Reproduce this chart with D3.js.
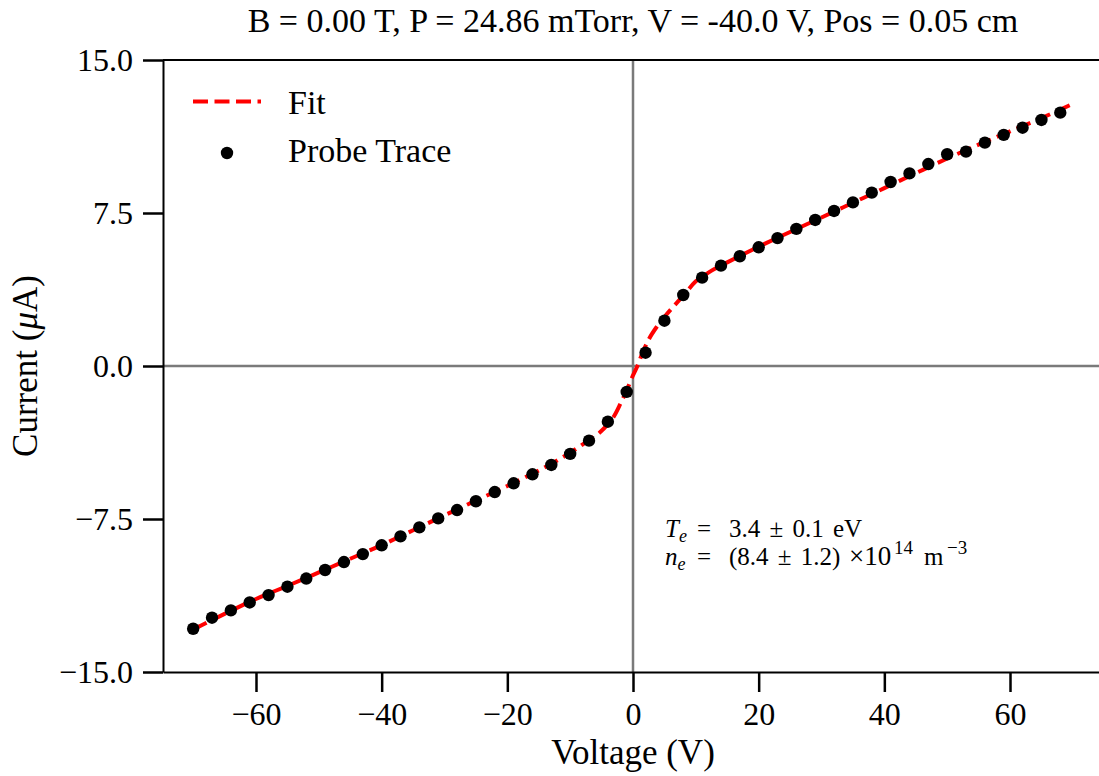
<!DOCTYPE html>
<html>
<head>
<meta charset="utf-8">
<script src="https://cdn.jsdelivr.net/npm/d3@7"></script>
<style>
    body { margin: 0; background: #fff; }
    text { font-family: "Liberation Serif", "Times New Roman", serif; fill: #000; }
    .tick text { font-size: 32px; }
</style>
</head>
<body>
<div id="chart"></div>
<script>

/*
DATA
*/
const titleText = "B = 0.00 T, P = 24.86 mTorr, V = -40.0 V, Pos = 0.05 cm";

// probe trace
const traceV = [-70, -67, -64, -61, -58, -55, -52, -49, -46, -43, -40, -37, -34, -31, -28, -25, -22, -19, -16, -13, -10, -7, -4, -1,
                2, 5, 8, 11, 14, 17, 20, 23, 26, 29, 32, 35, 38, 41, 44, 47, 50, 53, 56, 59, 62, 65, 68];
const traceI = [-12.88, -12.34, -11.98, -11.59, -11.23, -10.82, -10.42, -10.00, -9.61, -9.22, -8.79, -8.35, -7.91, -7.47, -7.06, -6.63, -6.18, -5.75, -5.31, -4.85, -4.31, -3.66, -2.73, -1.27,
                0.65, 2.22, 3.48, 4.33, 4.92, 5.38, 5.82, 6.27, 6.72, 7.16, 7.60, 8.02, 8.50, 9.02, 9.44, 9.90, 10.38, 10.51, 10.95, 11.33, 11.68, 12.06, 12.42];

// fit curve
const fitV = [-70, -65, -60, -55, -50, -45, -40, -35, -30, -25, -20, -15, -12, -9, -7, -5.25, -4, -3, -2, -1, -0.2, 0.7, 1.65, 2.5, 3.8, 5, 6.4, 8, 10, 12, 15, 20, 25, 30, 35, 40, 45, 50, 55, 60, 65, 69.5];
const fitI = [-12.92, -12.15, -11.42, -10.78, -10.12, -9.45, -8.78, -8.05, -7.32, -6.6, -5.88, -5.12, -4.62, -4.05, -3.62, -3.25, -2.85, -2.45, -1.85, -1.2, -0.6, 0.0, 0.75, 1.3, 1.93, 2.4, 2.9, 3.45, 4.15, 4.58, 5.08, 5.85, 6.57, 7.28, 8.0, 8.72, 9.45, 10.17, 10.85, 11.5, 12.15, 12.78];

const xTicks = [-60, -40, -20, 0, 20, 40, 60];
const yTicks = [-15, -7.5, 0, 7.5, 15];

const legendLabels = ["Fit", "Probe Trace"];

/*
SVG CANVAS
*/
const width = 1099;
const height = 776;
const margin = {top: 60, left: 163, bottom: 104};

const svg = d3.select("#chart")
    .append("svg")
    .attr("width", width)
    .attr("height", height);

/*
SCALES
*/
// x range runs past the right edge, the original figure is cropped there
const xScale = d3.scaleLinear()
    .domain([-74.8, 74.8])
    .range([margin.left, 1103]);

const yScale = d3.scaleLinear()
    .domain([-15, 15])
    .range([height - margin.bottom, margin.top]);

/*
ZERO LINES
*/
svg.append("line")
    .attr("x1", xScale.range()[0]).attr("x2", xScale.range()[1])
    .attr("y1", yScale(0)).attr("y2", yScale(0))
    .attr("stroke", "#7a7a7a")
    .attr("stroke-width", 2.5);

svg.append("line")
    .attr("x1", xScale(0)).attr("x2", xScale(0))
    .attr("y1", yScale.range()[0]).attr("y2", yScale.range()[1])
    .attr("stroke", "#7a7a7a")
    .attr("stroke-width", 2.5);

/*
AXES
*/
const xAxis = svg.append("g")
    .attr("class", "axis")
    .attr("transform", `translate(0,${height - margin.bottom})`)
    .call(d3.axisBottom(xScale)
        .tickValues(xTicks)
        .tickSize(20)
        .tickSizeOuter(0)
        .tickPadding(5)
        .tickFormat(d => d3.format("d")(d).replace("-", "\u2212")));

const yAxis = svg.append("g")
    .attr("class", "axis")
    .attr("transform", `translate(${margin.left},0)`)
    .call(d3.axisLeft(yScale)
        .tickValues(yTicks)
        .tickSize(20)
        .tickSizeOuter(0)
        .tickPadding(10)
        .tickFormat(d => d3.format(".1f")(d).replace("-", "\u2212")));

svg.selectAll(".axis .domain").attr("stroke", "#000").attr("stroke-width", 2);
svg.selectAll(".axis .tick line").attr("stroke", "#000").attr("stroke-width", 2.5);
xAxis.selectAll(".tick text").attr("dy", "0.88em");
yAxis.selectAll(".tick text").attr("dy", "0.34em");

// top spine
svg.append("line")
    .attr("x1", xScale.range()[0]).attr("x2", xScale.range()[1])
    .attr("y1", yScale(15)).attr("y2", yScale(15))
    .attr("stroke", "#000")
    .attr("stroke-width", 2);

/*
FIT LINE + POINTS
*/
const fitData = fitV.map((v, i) => ({v: v, i: fitI[i]}));
const traceData = traceV.map((v, i) => ({v: v, i: traceI[i]}));

const line = d3.line()
    .x(d => xScale(d.v))
    .y(d => yScale(d.i))
    .curve(d3.curveMonotoneX);

svg.append("path")
    .datum(fitData)
    .attr("d", line)
    .attr("fill", "none")
    .attr("stroke", "#ff0000")
    .attr("stroke-width", 4)
    .attr("stroke-dasharray", "15,6.5");

svg.selectAll("circle.trace")
    .data(traceData)
    .enter()
    .append("circle")
        .attr("class", "trace")
        .attr("cx", d => xScale(d.v))
        .attr("cy", d => yScale(d.i))
        .attr("r", 6.2)
        .attr("fill", "#000");

/*
TITLE + AXIS LABELS
*/
svg.append("text")
    .attr("x", xScale(0))
    .attr("y", 32)
    .attr("text-anchor", "middle")
    .style("font-size", "34px")
    .text(titleText);

svg.append("text")
    .attr("x", xScale(0))
    .attr("y", 764)
    .attr("text-anchor", "middle")
    .style("font-size", "35px")
    .text("Voltage (V)");

const yLabel = svg.append("text")
    .attr("transform", `translate(37,${yScale(0)}) rotate(-90)`)
    .attr("text-anchor", "middle")
    .style("font-size", "35px");
yLabel.append("tspan").text("Current (");
yLabel.append("tspan").style("font-style", "italic").text("\u03bc");
yLabel.append("tspan").text("A)");

/*
LEGEND
*/
const legend = svg.append("g");

legend.append("line")
    .attr("x1", 193).attr("x2", 261)
    .attr("y1", 101.5).attr("y2", 101.5)
    .attr("stroke", "#ff0000")
    .attr("stroke-width", 4)
    .attr("stroke-dasharray", "15,6.5");

legend.append("circle")
    .attr("cx", 227)
    .attr("cy", 153)
    .attr("r", 6.2)
    .attr("fill", "#000");

legendLabels.forEach(function(label, i) {
    legend.append("text")
        .attr("x", 288)
        .attr("y", 114 + i * 48)
        .style("font-size", "34px")
        .text(label);
});

/*
ANNOTATION
*/
const note = svg.append("g").style("font-size", "25px");

// T_e line
const te = note.append("text").attr("y", 537);
te.append("tspan").attr("x", 665).style("font-style", "italic").text("T");
te.append("tspan").style("font-style", "italic").style("font-size", "18px").attr("dy", 5).text("e");
te.append("tspan").attr("x", 697).attr("dy", -5).text("=");
te.append("tspan").attr("x", 729).style("word-spacing", "3px").text("3.4 \u00b1 0.1 eV");

// n_e line
const ne = note.append("text").attr("y", 565);
ne.append("tspan").attr("x", 665).style("font-style", "italic").text("n");
ne.append("tspan").style("font-style", "italic").style("font-size", "18px").attr("dy", 5).text("e");
ne.append("tspan").attr("x", 697).attr("dy", -5).text("=");
ne.append("tspan").attr("x", 729).style("word-spacing", "3px").text("(8.4 \u00b1 1.2)");
ne.append("tspan").attr("x", 849).style("font-size", "27px").text("\u00d710");
ne.append("tspan").attr("x", 894).attr("dy", -11).style("font-size", "19px").text("14");
ne.append("tspan").attr("x", 924).attr("dy", 11).text("m");
ne.append("tspan").attr("x", 947).attr("dy", -11).style("font-size", "19px").text("\u22123");

</script>
</body>
</html>
